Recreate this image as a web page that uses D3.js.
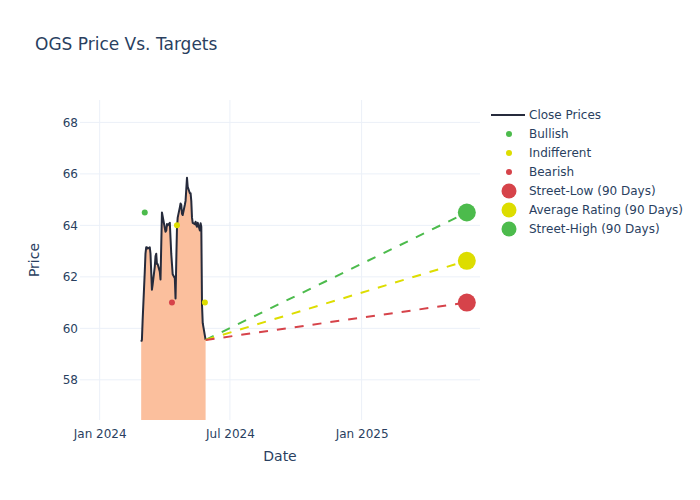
<!DOCTYPE html>
<html>
<head>
<meta charset="utf-8">
<script src="https://cdn.jsdelivr.net/npm/d3@7"></script>
<style>
  html, body { margin: 0; padding: 0; background: #fff; }
  svg { font-family: "DejaVu Sans", Verdana, sans-serif; }
</style>
</head>
<body>
<svg id="chart" width="700" height="500"></svg>
<script>
// ---------- data ----------
const priceDates = [
  "2024-02-28","2024-02-29","2024-03-01","2024-03-04","2024-03-05","2024-03-06","2024-03-07","2024-03-08",
  "2024-03-11","2024-03-12","2024-03-13","2024-03-14","2024-03-15","2024-03-18","2024-03-19","2024-03-20",
  "2024-03-21","2024-03-22","2024-03-25","2024-03-26","2024-03-27","2024-03-28","2024-04-01","2024-04-02",
  "2024-04-03","2024-04-04","2024-04-05","2024-04-08","2024-04-09","2024-04-10","2024-04-11","2024-04-12",
  "2024-04-15","2024-04-16","2024-04-17","2024-04-18","2024-04-19","2024-04-22","2024-04-23","2024-04-24",
  "2024-04-25","2024-04-26","2024-04-29","2024-04-30","2024-05-01","2024-05-02","2024-05-03","2024-05-06",
  "2024-05-07","2024-05-08","2024-05-09","2024-05-10","2024-05-13","2024-05-14","2024-05-15","2024-05-16",
  "2024-05-17","2024-05-20","2024-05-21","2024-05-22","2024-05-23","2024-05-24","2024-05-28"
];
const closePrices = [
  59.48, 59.55, 60.3, 62.2, 62.9, 63.15, 63.15, 63.1,
  63.15, 62.9, 62.2, 61.5, 61.7, 62.4, 62.8, 62.9,
  62.5, 62.5, 62.2, 61.9, 63.2, 64.5, 63.9, 63.75,
  63.8, 64.05, 64.0, 64.1, 63.5, 62.9, 62.5, 62.1,
  61.95, 61.16, 62.6, 63.9, 64.3, 64.7, 64.85, 64.8,
  64.45, 64.4, 64.8, 64.95, 65.4, 65.85, 65.5, 65.25,
  65.25, 64.95, 64.3, 64.1, 64.05, 64.14, 64.0, 63.95,
  64.1, 63.8, 64.08, 63.95, 60.9, 60.2, 59.55
];
const bullishDates = ["2024-03-04"];
const bullishTargets = [64.5];
const indifferentDates = ["2024-04-18", "2024-05-27"];
const indifferentTargets = [64.0, 61.0];
const bearishDates = ["2024-04-11"];
const bearishTargets = [61.0];
const targetDate = "2025-05-28";
const streetLow = 61.0;
const averageRating = 62.625;
const streetHigh = 64.5;
const yTicks = [58, 60, 62, 64, 66, 68];
const xTickDates = ["2024-01-01", "2024-07-01", "2025-01-01"];
const xTickLabels = ["Jan 2024", "Jul 2024", "Jan 2025"];
const legendLabels = ["Close Prices", "Bullish", "Indifferent", "Bearish",
  "Street-Low (90 Days)", "Average Rating (90 Days)", "Street-High (90 Days)"];

// ---------- styles ----------
const TEXT = "#2a3f5f";
const GRID = "#ebf0f8";
const GREEN = "#4cbb4c";
const YELLOW = "#dddd00";
const RED = "#d6434a";
const FILL = "#fbbf9d";
const LINE = "#262b3c";

const parse = d3.utcParse("%Y-%m-%d");
const M = { left: 80, right: 480, top: 100, bottom: 420 };

const svg = d3.select("#chart");

const x = d3.scaleUtc()
  .domain([Date.UTC(2023, 11, 4, 12), Date.UTC(2025, 5, 15, 10)])
  .range([M.left, M.right]);
const y = d3.scaleLinear()
  .domain([56.44, 68.87])
  .range([M.bottom, M.top]);

// clip
svg.append("defs").append("clipPath").attr("id", "plotclip")
  .append("rect").attr("x", M.left).attr("y", M.top)
  .attr("width", M.right - M.left).attr("height", M.bottom - M.top);

// grid
const grid = svg.append("g");
grid.selectAll("line.gy").data(yTicks).join("line")
  .attr("x1", M.left).attr("x2", M.right)
  .attr("y1", d => y(d)).attr("y2", d => y(d))
  .attr("stroke", GRID).attr("stroke-width", 1);
grid.selectAll("line.gx").data(xTickDates).join("line")
  .attr("y1", M.top).attr("y2", M.bottom)
  .attr("x1", d => x(parse(d))).attr("x2", d => x(parse(d)))
  .attr("stroke", GRID).attr("stroke-width", 1);

// axes (labels only)
const yAxis = d3.axisLeft(y).tickValues(yTicks).tickSize(0).tickPadding(2);
const gy = svg.append("g").attr("transform", `translate(${M.left},0)`).call(yAxis);
gy.select(".domain").remove();
gy.selectAll("text").attr("fill", TEXT).style("font-size", "12px")
  .style("font-family", "'DejaVu Sans', sans-serif");

const xAxis = d3.axisBottom(x).tickValues(xTickDates.map(parse))
  .tickFormat((d, i) => xTickLabels[i]).tickSize(0).tickPadding(9);
const gx = svg.append("g").attr("transform", `translate(0,${M.bottom})`).call(xAxis);
gx.select(".domain").remove();
gx.selectAll("text").attr("fill", TEXT).style("font-size", "12px")
  .style("font-family", "'DejaVu Sans', sans-serif");

// plot
const plot = svg.append("g").attr("clip-path", "url(#plotclip)");
const priceData = priceDates.map((d, i) => ({ date: parse(d), v: closePrices[i] }));

plot.append("path").datum(priceData)
  .attr("d", d3.area().x(d => x(d.date)).y0(y(0)).y1(d => y(d.v)))
  .attr("fill", FILL);

plot.append("path").datum(priceData)
  .attr("d", d3.line().x(d => x(d.date)).y(d => y(d.v)))
  .attr("fill", "none").attr("stroke", LINE).attr("stroke-width", 2)
  .attr("stroke-linejoin", "round");

// dashed projection lines
const last = priceData[priceData.length - 1];
const tDate = parse(targetDate);
const targets = [
  { v: streetHigh, c: GREEN },
  { v: averageRating, c: YELLOW },
  { v: streetLow, c: RED }
];
plot.selectAll("line.proj").data(targets).join("line")
  .attr("x1", x(last.date)).attr("y1", y(last.v))
  .attr("x2", x(tDate)).attr("y2", d => y(d.v))
  .attr("stroke", d => d.c).attr("stroke-width", 2)
  .attr("stroke-dasharray", "9,9");

// rating markers
function dots(dates, vals, color) {
  plot.append("g").selectAll("circle").data(dates.map((d, i) => ({ date: parse(d), v: vals[i] })))
    .join("circle").attr("cx", d => x(d.date)).attr("cy", d => y(d.v))
    .attr("r", 3).attr("fill", color);
}
dots(bullishDates, bullishTargets, GREEN);
dots(indifferentDates, indifferentTargets, YELLOW);
dots(bearishDates, bearishTargets, RED);

// target markers
const bigs = [
  { v: streetLow, c: RED },
  { v: averageRating, c: YELLOW },
  { v: streetHigh, c: GREEN }
];
plot.selectAll("circle.big").data(bigs).join("circle")
  .attr("cx", x(tDate)).attr("cy", d => y(d.v)).attr("r", 9)
  .attr("fill", d => d.c);

// title
svg.append("text").attr("x", 35).attr("y", 50).text("OGS Price Vs. Targets")
  .attr("fill", TEXT).style("font-size", "17px");

// axis titles
svg.append("text").attr("x", (M.left + M.right) / 2).attr("y", 461)
  .attr("text-anchor", "middle").text("Date")
  .attr("fill", TEXT).style("font-size", "14px");
svg.append("text").attr("transform", `translate(39,${(M.top + M.bottom) / 2}) rotate(-90)`)
  .attr("text-anchor", "middle").text("Price")
  .attr("fill", TEXT).style("font-size", "14px");

// legend
const legend = svg.append("g");
const rowY = i => 115 + i * 19;
const legendColors = [LINE, GREEN, YELLOW, RED, RED, YELLOW, GREEN];
legendLabels.forEach((lab, i) => {
  const g = legend.append("g");
  if (i === 0) {
    g.append("line").attr("x1", 491).attr("x2", 525).attr("y1", rowY(i)).attr("y2", rowY(i))
      .attr("stroke", LINE).attr("stroke-width", 2);
  } else {
    g.append("circle").attr("cx", 509).attr("cy", rowY(i))
      .attr("r", i <= 3 ? 3 : 7.5).attr("fill", legendColors[i]);
  }
  g.append("text").attr("x", 529).attr("y", rowY(i)).attr("dy", "0.35em")
    .text(lab).attr("fill", TEXT).style("font-size", "12px");
});
</script>
</body>
</html>
